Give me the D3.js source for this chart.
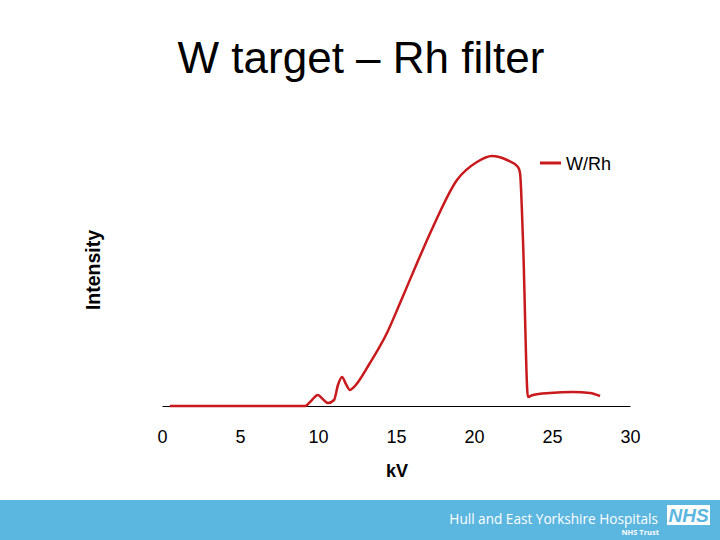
<!DOCTYPE html>
<html><head><meta charset="utf-8">
<script src="https://cdn.jsdelivr.net/npm/d3@7/dist/d3.min.js"></script>
<style>body{margin:0;background:#fff}svg{display:block}</style>
</head><body>
<svg id="c" width="720" height="540"></svg>
<script>
const kV = [0.5, 9.17, 9.49, 10.0, 10.3, 10.64, 11.03, 11.28, 11.54, 11.79, 12.05, 12.24, 13.33, 14.42, 15.26, 16.35, 17.37, 18.91, 20.19, 21.15, 22.12, 22.82, 22.95, 23.14, 23.46, 23.78, 24.87, 26.35, 27.44, 28.08];
const intensity = [0, 0, 1.6, 4.4, 2.8, 1.2, 2.4, 8.4, 11.6, 8.8, 6.4, 7.2, 17.2, 29.2, 41.2, 57.2, 71.6, 90.4, 97.6, 100, 98.4, 95.6, 93.2, 66.4, 3.6, 4.4, 5.2, 5.6, 5.2, 4.0];
const xTicks = [0, 5, 10, 15, 20, 25, 30];
const seriesName = "W/Rh";

const svg = d3.select("#c");
const font = "Liberation Sans, Arial, sans-serif";
const x = d3.scaleLinear().domain([0, 30]).range([162, 630]);
const y = d3.scaleLinear().domain([0, 100]).range([406, 156]);

svg.append("text").attr("x", 361).attr("y", 73).attr("text-anchor", "middle")
  .attr("font-family", font).attr("font-size", 44).attr("fill", "#000").text("W target – Rh filter");

// axis
const ax = svg.append("g").attr("transform", "translate(0,406)")
  .call(d3.axisBottom(x).tickValues(xTicks).tickSize(0).tickPadding(24).tickFormat(d3.format("d")));
ax.select(".domain").attr("stroke", "#000").attr("stroke-width", 1.2);
ax.selectAll("text").attr("font-family", font).attr("font-size", 18).attr("fill", "#000");

svg.append("text").attr("x", 397).attr("y", 477).attr("text-anchor", "middle")
  .attr("font-family", font).attr("font-size", 18).attr("font-weight", "bold").text("kV");
svg.append("text").attr("transform", "translate(100,270) rotate(-90)").attr("text-anchor", "middle")
  .attr("font-family", font).attr("font-size", 19.5).attr("font-weight", "bold").text("Intensity");

const data = kV.map((k, i) => [k, intensity[i]]);
svg.append("path").datum(data)
  .attr("d", d3.line().x(d => x(d[0])).y(d => y(d[1])).curve(d3.curveMonotoneX))
  .attr("fill", "none").attr("stroke", "#c8191c").attr("stroke-width", 2.5).attr("stroke-linejoin", "round");

// legend
svg.append("line").attr("x1", 540).attr("x2", 561).attr("y1", 163).attr("y2", 163)
  .attr("stroke", "#c8191c").attr("stroke-width", 3);
svg.append("text").attr("x", 566).attr("y", 170).attr("font-family", font).attr("font-size", 18).text(seriesName);

// footer
svg.append("rect").attr("x", 0).attr("y", 500).attr("width", 720).attr("height", 40).attr("fill", "#5bb6e0");
svg.append("text").attr("x", 658).attr("y", 524).attr("text-anchor", "end").attr("font-family", "Open Sans, sans-serif")
  .attr("font-size", 13.6).attr("fill", "#fff").text("Hull and East Yorkshire Hospitals");
svg.append("text").attr("x", 659).attr("y", 535).attr("text-anchor", "end").attr("font-family", "Open Sans, sans-serif")
  .attr("font-size", 7.5).attr("font-weight", "bold").attr("fill", "#fff").text("NHS Trust");
svg.append("rect").attr("x", 667).attr("y", 505).attr("width", 43).attr("height", 20).attr("fill", "#fff");
svg.append("text").attr("x", 688.5).attr("y", 522).attr("text-anchor", "middle").attr("font-family", font)
  .attr("font-size", 19).attr("font-weight", "bold").attr("font-style", "italic").attr("fill", "#5bb6e0").text("NHS");
</script>
</body></html>
